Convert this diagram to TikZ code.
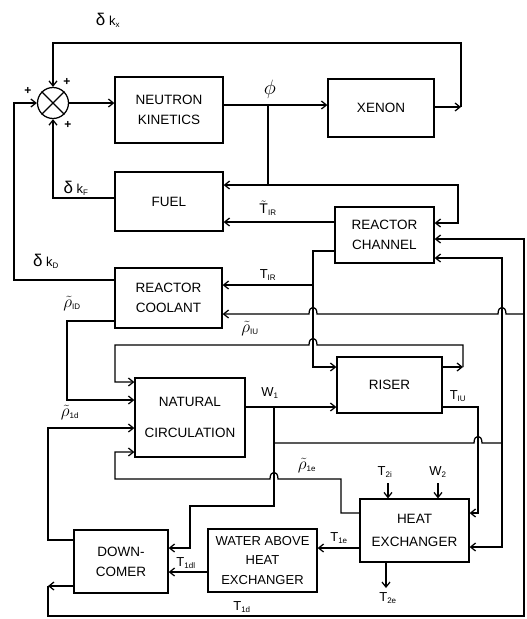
\documentclass[tikz,border=0pt]{standalone}
\usepackage{fontspec}
\setmainfont{Liberation Sans}
\usetikzlibrary{arrows.meta}
\newcommand\sbx[1]{\textsubscript{\fontsize{8}{8}\selectfont #1}}
\newcommand\rhot{{\fontsize{19}{19}\selectfont$\tilde\rho$}}
\newcommand\dlt{{\fontsize{17}{17}\selectfont δ}}
\begin{document}
\begin{tikzpicture}[x=1pt,y=-1pt, line width=1.25pt,
  box/.style={draw, rectangle, inner sep=0pt, align=center, font=\fontsize{13.5}{20}\selectfont},
  lab/.style={inner sep=0pt, font=\fontsize{13}{15}\selectfont},
  plus/.style={inner sep=0pt, font=\fontsize{12}{12}\selectfont\bfseries},
  >={Straight Barb[length=5pt,width=8pt]}]
\useasboundingbox (0,0) rectangle (527,619);

% blocks
\node[circle, draw, minimum size=31pt, inner sep=0pt] (sum) at (53,103) {};
\draw (sum.north west) -- (sum.south east) (sum.north east) -- (sum.south west);
\node[box, minimum width=108pt, minimum height=66pt] (nk) at (169,110) {NEUTRON\\KINETICS};
\node[box, minimum width=106pt, minimum height=58pt] (xe) at (381,108) {XENON};
\node[box, minimum width=108pt, minimum height=59pt] (fuel) at (169,201.5) {FUEL};
\node[box, minimum width=99pt, minimum height=56pt] (rc) at (384.5,235) {REACTOR\\CHANNEL};
\node[box, minimum width=107pt, minimum height=60pt] (rcool) at (168.5,298) {REACTOR\\COOLANT};
\node[box, minimum width=110pt, minimum height=79pt, font=\fontsize{13.5}{31}\selectfont] (nc) at (190,417.5) {NATURAL\\CIRCULATION};
\node[box, minimum width=105pt, minimum height=56pt] (riser) at (389.5,385) {RISER};
\node[box, minimum width=109pt, minimum height=63pt, font=\fontsize{13.5}{23}\selectfont] (hx) at (414.5,530.5) {HEAT\\EXCHANGER};
\node[box, minimum width=109pt, minimum height=63pt, font=\fontsize{13}{19.5}\selectfont] (wahx) at (262.5,560.5) {WATER ABOVE\\HEAT\\EXCHANGER};
\node[box, minimum width=94pt, minimum height=63pt] (dc) at (121,561.5) {DOWN-\\COMER};

% sum -> neutron kinetics
\draw[->] (sum.east) -- (sum.east -| nk.west);
% phi
\coordinate (phiA) at (268,105);
\coordinate (phiB) at (268,185);
\coordinate (phiC) at (458,185);
\coordinate (phiD) at (458,223);
\draw[->] (phiA -| nk.east) -- (phiA -| xe.west);
\draw (phiA) -- (phiB);
\draw[->] (phiB) -- (phiB -| fuel.east);
\draw[->] (phiB) -- (phiC) -- (phiD) -- (phiD -| rc.east);
% xenon feedback
\coordinate (xk) at (461,107);
\coordinate (xtop) at (461,43);
\draw[->] (xk -| xe.east) -- (xk);
\draw[->] (xk) -- (xtop) -- (sum.north |- xtop) -- (sum.north);
% fuel feedback
\coordinate (fk) at (53,198);
\draw[->] (fk -| fuel.west) -- (sum.south |- fk) -- (sum.south);
% coolant feedback
\coordinate (dk) at (14,280);
\draw[->] (dk -| rcool.west) -- (dk) -- (dk |- sum.west) -- (sum.west);
% T~IR
\coordinate (tirt) at (300,222);
\draw[->] (tirt -| rc.west) -- (tirt -| fuel.east);
% T IR
\coordinate (ta) at (313,251);
\coordinate (tb) at (313,285);
\coordinate (tc) at (313,367);
\draw[->] (ta -| rc.west) -- (ta) -- (tc) -- (tc -| riser.west);
\draw[->] (tb) -- (tb -| rcool.east);
% T1d loop
\coordinate (ea) at (48,586);
\coordinate (eb) at (48,616);
\coordinate (ec) at (524,616);
\coordinate (ed) at (524,239);
\coordinate (ee) at (524,314);
\draw[->] (ea -| dc.west) -- (ea);
\draw[->] (ea) -- (eb) -- (ec) -- (ed) -- (ed -| rc.east);
\draw[->] (ee) -- (506,314) .. controls (506,305) and (498,305) .. (498,314) -- (317,314) .. controls (317,305) and (309,305) .. (309,314) -- (ee -| rcool.east);
% W1
\coordinate (fa) at (502,258);
\coordinate (fb) at (502,443);
\coordinate (fc) at (502,547);
\coordinate (wa) at (274,407);
\coordinate (wb) at (274,443);
\coordinate (wc) at (274,506);
\coordinate (wd) at (190,506);
\coordinate (we) at (190,548);
\draw[->] (wa -| nc.east) -- (wa -| riser.west);
\draw[->] (wa) -- (wc) -- (wd) -- (we) -- (we -| dc.east);
\draw (wb) -- (474,443) .. controls (474,434) and (482,434) .. (482,443) -- (fb);
\draw[->] (fb) -- (fa) -- (fa -| rc.east);
\draw[->] (fb) -- (fc) -- (fc -| hx.east);
% T1U
\coordinate (ua) at (478,407);
\coordinate (ub) at (478,513);
\draw[->] (ua -| riser.east) -- (ua) -- (ub) -- (ub -| hx.east);
% rho 1U
\coordinate (ra) at (463,367);
\coordinate (rb) at (463,345);
\coordinate (rc2) at (115,345);
\coordinate (rd) at (115,382);
\draw[->] (ra -| riser.east) -- (ra);
\draw[->] (ra) -- (rb) -- (317,345) .. controls (317,336) and (309,336) .. (309,345) -- (rc2) -- (rd) -- (rd -| nc.west);
% rho 1D
\coordinate (pa) at (67,321);
\coordinate (pb) at (67,400);
\draw[->] (pa -| rcool.west) -- (pa) -- (pb) -- (pb -| nc.west);
% rho 1d
\coordinate (qa) at (48,540);
\coordinate (qb) at (48,428);
\draw[->] (qa -| dc.west) -- (qa) -- (qb) -- (qb -| nc.west);
% rho 1e
\coordinate (sa) at (341,513);
\coordinate (sb) at (341,479);
\coordinate (sc) at (115,479);
\coordinate (sd) at (115,452);
\draw[->] (sa -| hx.west) -- (sa) -- (sb) -- (278,479) .. controls (278,470) and (270,470) .. (270,479) -- (sc) -- (sd) -- (sd -| nc.west);
% heat exchanger secondary
\coordinate (t2i) at (388,483);
\coordinate (w2) at (438,483);
\coordinate (t2e) at (386,588);
\draw[->] (t2i) -- (t2i |- hx.north);
\draw[->] (w2) -- (w2 |- hx.north);
\draw[->] (t2e |- hx.south) -- (t2e);
% T1e, T1dl
\coordinate (ha) at (400,548);
\coordinate (hb) at (190,572);
\draw[->] (ha -| hx.west) -- (ha -| wahx.east);
\draw[->] (hb -| wahx.west) -- (hb -| dc.east);

% labels
\node[lab] (lkx) at (108,20) {\dlt\ k\sbx{x}};
\node[plus] (p1) at (67,82) {+};
\node[plus] (p2) at (28,91) {+};
\node[plus] (p3) at (68,125) {+};
\node[lab] (lphi) at (270,89) {\fontsize{20}{20}\selectfont$\phi$};
\node[lab] (lkf) at (76,188) {\dlt\ k\sbx{F}};
\node[lab] (lkd) at (46,261) {\dlt\ k\sbx{D}};
\node[lab] (ltirt) at (268,208) {{\fontsize{14}{14}\selectfont$\tilde{\hbox{T}}$}\sbx{IR}};
\node[lab] (ltir) at (268,275) {T\sbx{IR}};
\node[lab] (lr1D) at (72,304) {\rhot\sbx{ID}};
\node[lab] (lr1U) at (250,329) {\rhot\sbx{IU}};
\node[lab] (lr1d) at (70,413) {\rhot\sbx{1d}};
\node[lab] (lw1) at (270,393) {W\sbx{1}};
\node[lab] (lt1u) at (458,396) {T\sbx{IU}};
\node[lab] (lr1e) at (307,466) {\rhot\sbx{1e}};
\node[lab] (lt2i) at (385,472) {T\sbx{2i}};
\node[lab] (lw2) at (438,472) {W\sbx{2}};
\node[lab] (lt1e) at (339,538) {T\sbx{1e}};
\node[lab] (lt2e) at (388,598) {T\sbx{2e}};
\node[lab] (lt1dl) at (186,563) {T\sbx{1dl}};
\node[lab] (lt1d) at (242,607) {T\sbx{1d}};
\end{tikzpicture}
\end{document}
